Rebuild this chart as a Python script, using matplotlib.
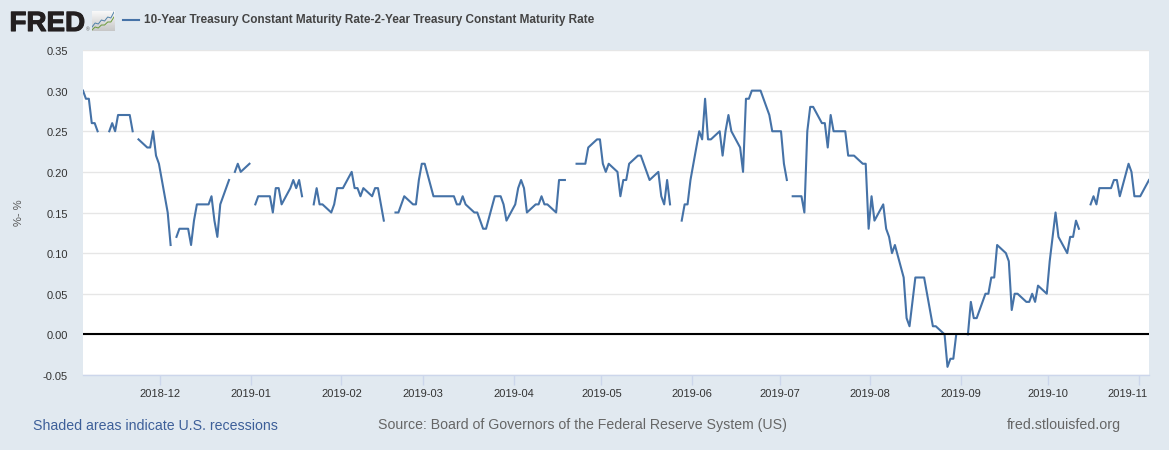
import numpy as np
import pandas as pd
import matplotlib
matplotlib.use('Agg')
import matplotlib.pyplot as plt
import matplotlib.patheffects as pe
from matplotlib.transforms import ScaledTranslation

plt.rcParams['font.family'] = ['Liberation Sans', 'DejaVu Sans']

series_name = '10-Year Treasury Constant Maturity Rate-2-Year Treasury Constant Maturity Rate'
y_ticks = [-0.05, 0.00, 0.05, 0.10, 0.15, 0.20, 0.25, 0.30, 0.35]
x_ticks = ['2018-12', '2019-01', '2019-02', '2019-03', '2019-04', '2019-05',
           '2019-06', '2019-07', '2019-08', '2019-09', '2019-10', '2019-11']

# value the line has where it enters at the left edge
edge_date = '2018-11-04'
edge_value = 0.30

# business days from 2018-11-05, five per row, None = bond market holiday
spread = [
    .29, .29, .26, .26, .25,
    None, .25, .26, .25, .27,
    .27, .27, .25, None, .24,
    .23, .23, .25, .22, .21,
    .15, .11, None, .12, .13,
    .13, .11, .14, .16, .16,
    .16, .17, .14, .12, .16,
    .19, None, .20, .21, .20,
    .21, None, .16, .17, .17,
    .17, .15, .18, .18, .16,
    .18, .19, .18, .19, .17,
    None, .16, .18, .16, .16,
    .15, .16, .18, .18, .18,
    .20, .18, .18, .17, .18,
    .17, .18, .18, .16, .14,
    None, .15, .15, .16, .17,
    .16, .16, .19, .21, .21,
    .17, .17, .17, .17, .17,
    .17, .16, .16, .17, .16,
    .15, .15, .14, .13, .13,
    .17, .17, .17, .16, .14,
    .16, .18, .19, .18, .15,
    .16, .16, .17, .16, .16,
    .15, .19, .19, .19, None,
    .21, .21, .21, .21, .23,
    .24, .24, .21, .20, .21,
    .20, .17, .19, .19, .21,
    .22, .22, .21, .20, .19,
    .20, .17, .16, .19, .16,
    None, .14, .16, .16, .19,
    .25, .24, .29, .24, .24,
    .25, .22, .25, .27, .25,
    .23, .20, .29, .29, .30,
    .30, .29, .28, .27, .25,
    .25, .21, .19, None, .17,
    .17, .15, .25, .28, .28,
    .26, .26, .23, .27, .25,
    .25, .25, .22, .22, .22,
    .21, .21, .13, .17, .14,
    .16, .13, .12, .10, .11,
    .07, .02, .01, .04, .07,
    .07, .05, .03, .01, .01,
    .00, -.04, -.03, -.03, .00,
    None, .00, .04, .02, .02,
    .05, .05, .07, .07, .11,
    .10, .09, .03, .05, .05,
    .04, .04, .05, .04, .06,
    .05, .09, .12, .15, .12,
    .10, .12, .12, .14, .13,
    None, .16, .17, .16, .18,
    .18, .18, .19, .19, .17,
    .21, .20, .17, .17, .17,
    .19,
]

# logo sparkline, only decoration
logo_blue = [2, 4, 3.5, 5.5, 5, 7, 6.5, 9.5]
logo_green = [0.5, 2, 1.5, 3, 3, 4.5, 4.5, 7]

days = pd.bdate_range('2018-11-05', periods=len(spread))
dates = [pd.Timestamp(edge_date)] + list(days)
vals = np.array([edge_value] + [np.nan if v is None else v for v in spread], dtype=float)

W, H = 1169, 450
bg = '#e1e9f0'
fig = plt.figure(figsize=(W/100, H/100), dpi=100, facecolor=bg)

def px_axes(x0, y0, x1, y1):
    # pixel box, y measured from the top of the picture
    return fig.add_axes([x0/W, 1-y1/H, (x1-x0)/W, (y1-y0)/H])

ax = px_axes(83, 50, 1149, 375)
ax.set_facecolor('white')
ax.plot(dates, vals, color='#4572a7', lw=1.5, zorder=3, solid_joinstyle='round')
ax.axhline(0, color='black', lw=1.5, zorder=4)

ax.set_xlim(pd.Timestamp('2018-11-04'), pd.Timestamp('2019-11-04'))
ax.set_ylim(-0.05, 0.35)
ax.set_yticks(y_ticks)
ax.set_yticklabels(['%.2f' % t for t in y_ticks])
# ticks sit half a day before midnight of the first, as in the reference
ax.set_xticks([pd.Timestamp(t + '-01') - pd.Timedelta(hours=12) for t in x_ticks])
ax.set_xticklabels(x_ticks)
ax.grid(axis='y', color='#e6e6e6', lw=1)
ax.set_axisbelow(True)
for s in ['top', 'left', 'right']:
    ax.spines[s].set_visible(False)
ax.spines['bottom'].set_color('#ccd6eb')
ax.spines['bottom'].set_linewidth(1)
ax.tick_params(axis='x', length=7, width=1, color='#ccd6eb', labelsize=8, labelcolor='#333333', pad=2.8)
ax.tick_params(axis='y', length=0, labelsize=8, labelcolor='#333333', pad=11)
for lab in ax.get_yticklabels():
    lab.set_transform(lab.get_transform() + ScaledTranslation(0, -1/100, fig.dpi_scale_trans))
# last label is pushed left so it stays inside the plot width
last = ax.get_xticklabels()[-1]
last.set_transform(last.get_transform() + ScaledTranslation(-11/100, 0, fig.dpi_scale_trans))

fig.text(19/W, 1-213/H, '%- %', rotation=90, ha='center', va='center', fontsize=8, color='#555555')

# header
fred = fig.text(9.5/W, 1-31/H, 'FRED', fontsize=20, fontweight='bold', color='#231f20', ha='left', va='baseline')
fred.set_path_effects([pe.withStroke(linewidth=0.8, foreground='#231f20')])
fig.text(86/W, 1-30/H, '®', fontsize=3.5, color='#555555', ha='left', va='center')

logo = px_axes(92, 11, 114, 31)
logo.imshow(np.linspace(0.97, 0.78, 20).reshape(-1, 1), cmap='gray', vmin=0, vmax=1,
            aspect='auto', extent=[0, 7, 0, 10], zorder=0)
logo.plot(logo_blue, color='#4f81a8', lw=0.7)
logo.plot(logo_green, color='#6a9a3a', lw=0.7)
logo.set_xlim(0, 7)
logo.set_ylim(0, 10)
logo.set_xticks([])
logo.set_yticks([])
for s in logo.spines.values():
    s.set_visible(False)

fig.add_artist(plt.Line2D([123/W, 139/W], [1-20/H, 1-20/H], color='#4572a7', lw=1.5))
fig.text(144/W, 1-20/H, series_name, fontsize=8.5, fontweight='bold', color='#444444', ha='left', va='center')

# footer
fig.text(33/W, 1-426/H, 'Shaded areas indicate U.S. recessions', fontsize=10.15, color='#3d5f99', ha='left', va='center')
fig.text(378/W, 1-425/H, 'Source: Board of Governors of the Federal Reserve System (US)', fontsize=10.15, color='#666666', ha='left', va='center')
fig.text(1121/W, 1-425/H, 'fred.stlouisfed.org', fontsize=10.25, color='#666666', ha='right', va='center')

fig.savefig('out.png', dpi=100, facecolor=bg)
